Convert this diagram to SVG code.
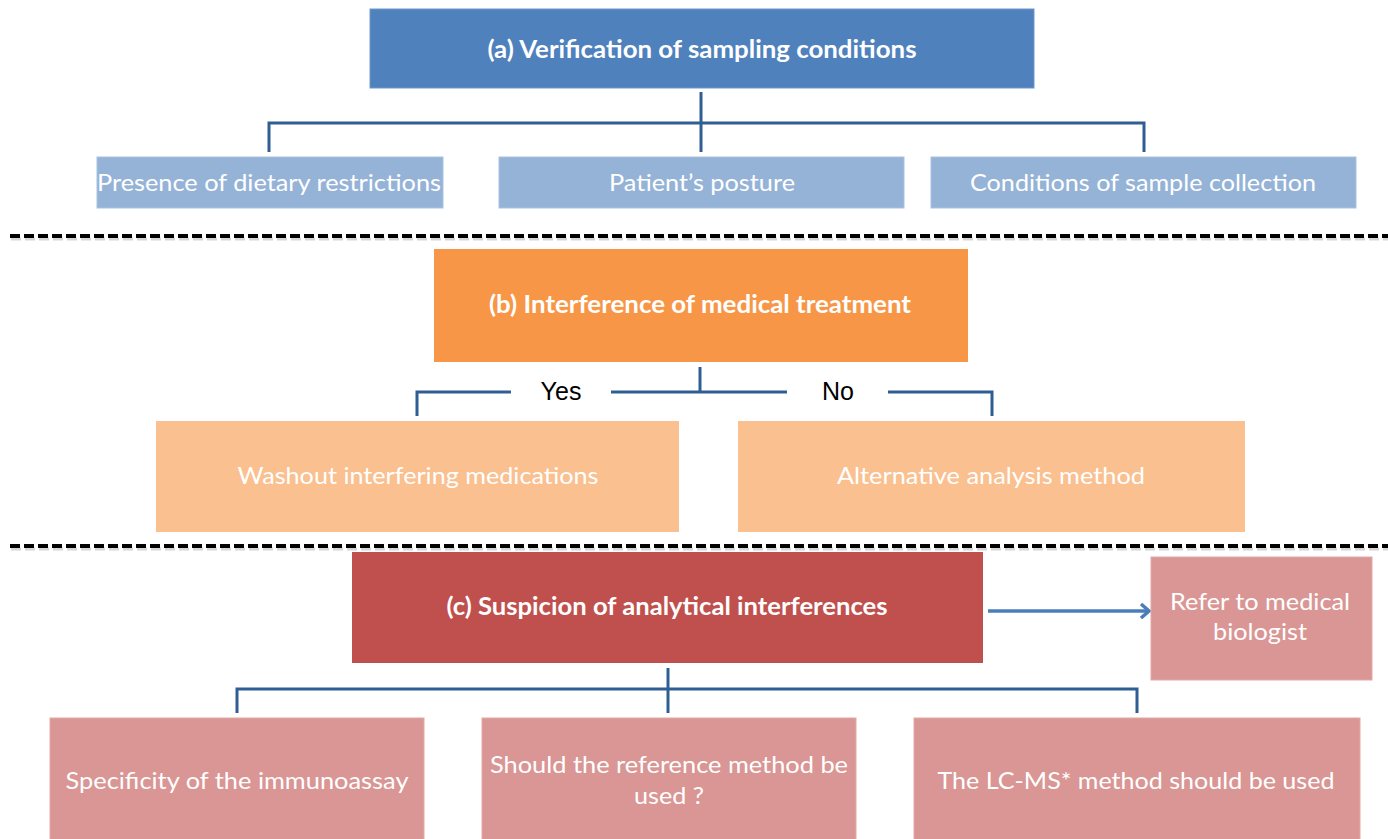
<svg xmlns="http://www.w3.org/2000/svg" width="1388" height="839" viewBox="0 0 1388 839">
<defs>
<style>
.t{font-family:Lato,"Open Sans","Liberation Sans",sans-serif;fill:#ffffff;text-anchor:middle}
.h{font-weight:bold;font-size:24px}
.s{font-size:24px}
.yn{font-family:"Liberation Sans",Arial,sans-serif;font-size:25px;fill:#000;text-anchor:middle}
.con{fill:none;stroke:#2F5E93;stroke-width:3}
.dash{stroke:#000;stroke-width:4;stroke-dasharray:10 4}
.shadow{stroke:#bbb;stroke-width:3;stroke-dasharray:10 4;opacity:0.6}
.blueD{fill:#4F81BD;stroke:#6F98CC;stroke-width:1}
.blueL{fill:#95B3D7;stroke:#A9C2E0;stroke-width:1}
.orD{fill:#F79646}
.orL{fill:#FAC090}
.redD{fill:#C0504D}
.pink{fill:#D99694;stroke:#E2A9A7;stroke-width:1}
</style>
<marker id="arr" markerWidth="14" markerHeight="16" refX="10" refY="8" orient="auto" markerUnits="userSpaceOnUse">
<path d="M2,1 L10,8 L2,15" fill="none" stroke="#4A7EBB" stroke-width="3.5"/>
</marker>
</defs>

<g id="separators">
<line class="shadow" x1="11" y1="239" x2="1388" y2="239"/>
<line class="dash" x1="10" y1="236" x2="1388" y2="236"/>
<line class="shadow" x1="11" y1="549" x2="1388" y2="549"/>
<line class="dash" x1="10" y1="546" x2="1388" y2="546"/>
</g>

<g id="connectors">
<path class="con" d="M701,92 V152"/>
<path class="con" d="M269,152 V123 H1144 V152"/>
<path class="con" d="M700,367 V392"/>
<path class="con" d="M417,416 V392 H511"/>
<path class="con" d="M611,392 H787"/>
<path class="con" d="M888,392 H992 V416"/>
<path class="con" d="M668,668 V713"/>
<path class="con" d="M237,713 V689 H1137 V713"/>
<line x1="988" y1="611" x2="1149" y2="611" stroke="#4A7EBB" stroke-width="3.5" marker-end="url(#arr)"/>
<text class="yn" x="561" y="400">Yes</text>
<text class="yn" x="838" y="400">No</text>
</g>

<g id="nodeA">
<rect class="blueD" x="370" y="9" width="664" height="79"/>
<text class="t h" x="702" y="58" textLength="429" lengthAdjust="spacingAndGlyphs">(a) Verification of sampling conditions</text>
</g>
<g id="nodeA1">
<rect class="blueL" x="97" y="157" width="346" height="51"/>
<text class="t s" x="269" y="191" textLength="344" lengthAdjust="spacingAndGlyphs">Presence of dietary restrictions</text>
</g>
<g id="nodeA2">
<rect class="blueL" x="499" y="157" width="405" height="51"/>
<text class="t s" x="702" y="191" textLength="186" lengthAdjust="spacingAndGlyphs">Patient’s posture</text>
</g>
<g id="nodeA3">
<rect class="blueL" x="931" y="157" width="425" height="51"/>
<text class="t s" x="1143" y="191" textLength="346" lengthAdjust="spacingAndGlyphs">Conditions of sample collection</text>
</g>

<g id="nodeB">
<rect class="orD" x="434" y="249" width="534" height="113"/>
<text class="t h" x="700" y="313" textLength="422" lengthAdjust="spacingAndGlyphs">(b) Interference of medical treatment</text>
</g>
<g id="nodeB1">
<rect class="orL" x="156" y="421" width="523" height="111"/>
<text class="t s" x="418" y="484" textLength="361" lengthAdjust="spacingAndGlyphs">Washout interfering medications</text>
</g>
<g id="nodeB2">
<rect class="orL" x="738" y="421" width="507" height="111"/>
<text class="t s" x="991" y="484" textLength="308" lengthAdjust="spacingAndGlyphs">Alternative analysis method</text>
</g>

<g id="nodeC">
<rect class="redD" x="352" y="552" width="631" height="111"/>
<text class="t h" x="667" y="615" textLength="441" lengthAdjust="spacingAndGlyphs">(c) Suspicion of analytical interferences</text>
</g>
<g id="nodeRefer">
<rect class="pink" x="1151" y="557" width="221" height="123"/>
<text class="t s" x="1260" y="610" textLength="180" lengthAdjust="spacingAndGlyphs">Refer to medical</text>
<text class="t s" x="1260" y="640" textLength="94" lengthAdjust="spacingAndGlyphs">biologist</text>
</g>
<g id="nodeC1">
<rect class="pink" x="50" y="718" width="374" height="130"/>
<text class="t s" x="237" y="789" textLength="343" lengthAdjust="spacingAndGlyphs">Specificity of the immunoassay</text>
</g>
<g id="nodeC2">
<rect class="pink" x="482" y="718" width="374" height="130"/>
<text class="t s" x="669" y="773" textLength="358" lengthAdjust="spacingAndGlyphs">Should the reference method be</text>
<text class="t s" x="669" y="804" textLength="70" lengthAdjust="spacingAndGlyphs">used ?</text>
</g>
<g id="nodeC3">
<rect class="pink" x="914" y="718" width="446" height="130"/>
<text class="t s" x="1136" y="789" textLength="397" lengthAdjust="spacingAndGlyphs">The LC-MS* method should be used</text>
</g>
</svg>
